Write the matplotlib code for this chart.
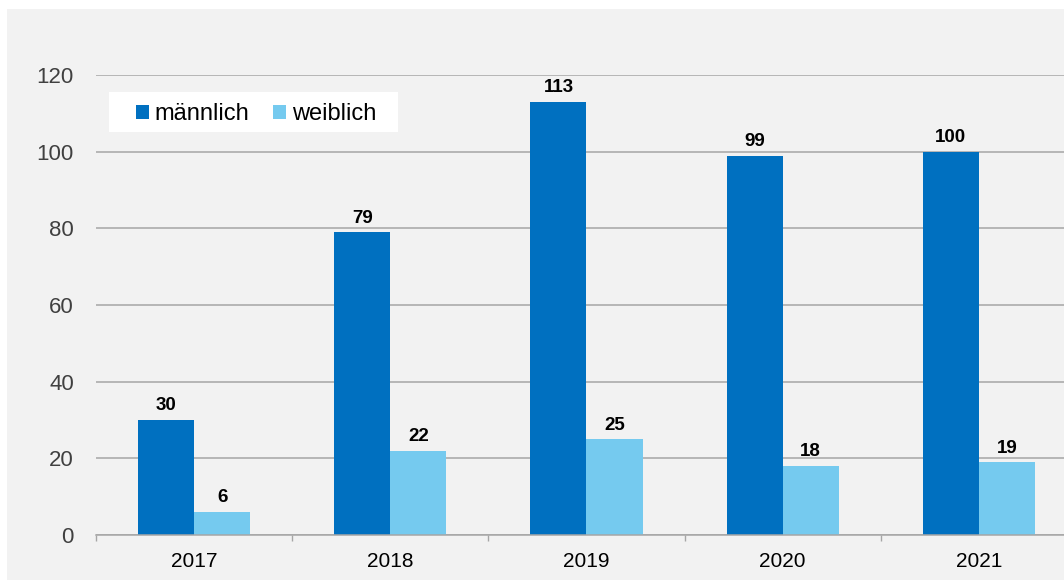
import matplotlib
matplotlib.use("Agg")
import matplotlib.pyplot as plt
from matplotlib.patches import Rectangle, Patch
import numpy as np

years = ["2017", "2018", "2019", "2020", "2021"]
maennlich = [30, 79, 113, 99, 100]
weiblich = [6, 22, 25, 18, 19]
series_names = ["männlich", "weiblich"]
colors = ["#0070C0", "#75CAEF"]
yticks = [0, 20, 40, 60, 80, 100, 120]

plt.rcParams['font.family'] = ['Liberation Sans', 'DejaVu Sans']

W, H = 1064, 580
fig = plt.figure(figsize=(W / 100, H / 100), dpi=100)
fig.patch.set_facecolor("white")
fig.patches.append(Rectangle((7 / W, 0), 1 - 7 / W, (H - 9) / H,
                             transform=fig.transFigure, facecolor="#F2F2F2",
                             edgecolor="none", zorder=-5))

ax = fig.add_axes([96 / W, 45 / H, 981 / W, 460 / H])
ax.set_facecolor("none")

x = np.arange(len(years))
bw = 0.2855
b1 = ax.bar(x - bw / 2, maennlich, bw, color=colors[0], zorder=3)
b2 = ax.bar(x + bw / 2, weiblich, bw, color=colors[1], zorder=3)

for bars, vals in ((b1, maennlich), (b2, weiblich)):
    for rect, v in zip(bars, vals):
        ax.annotate(str(v), (rect.get_x() + rect.get_width() / 2, v),
                    xytext=(0, 4), textcoords="offset points",
                    ha="center", va="bottom", fontsize=13.5, fontweight="bold",
                    color="#000000")

ax.set_xlim(-0.5, len(years) - 0.5)
ax.set_ylim(0, 120)
ax.set_yticks(yticks)
ax.set_yticklabels([str(t) for t in yticks])
ax.set_xticks(x)
ax.set_xticklabels(years)
ax.set_xticks(np.arange(len(years) + 1) - 0.5, minor=True)

ax.tick_params(axis="y", length=0, pad=16, labelsize=16, labelcolor="#404040")
ax.tick_params(axis="x", which="major", length=0, pad=12, labelsize=15, labelcolor="#000000")
ax.tick_params(axis="x", which="minor", length=4.3, width=1.0, color="#A6A6A6", direction="out")

for s in ["left", "right", "top"]:
    ax.spines[s].set_visible(False)
ax.spines["bottom"].set_color("#A6A6A6")
ax.spines["bottom"].set_linewidth(1.1)
ax.spines["bottom"].set_zorder(4)

ax.yaxis.grid(True, color="#A6A6A6", linewidth=1.1, zorder=1)
ax.set_axisbelow(True)

# legend background box
fig.patches.append(Rectangle((109 / W, 1 - 132 / H), 289 / W, 40 / H,
                             transform=fig.transFigure, facecolor="white",
                             edgecolor="none", zorder=5))

handles = [Patch(facecolor=c, edgecolor="none") for c in colors]
leg = fig.legend(handles, series_names, loc="center left",
                 bbox_to_anchor=(136 / W, 1 - 114 / H), ncol=2,
                 frameon=False, fontsize=17,
                 handlelength=0.55, handleheight=0.55, handletextpad=0.25,
                 columnspacing=1.0, borderpad=0, borderaxespad=0)
leg.set_zorder(10)

fig.savefig("out.png", dpi=100, facecolor=fig.get_facecolor())
